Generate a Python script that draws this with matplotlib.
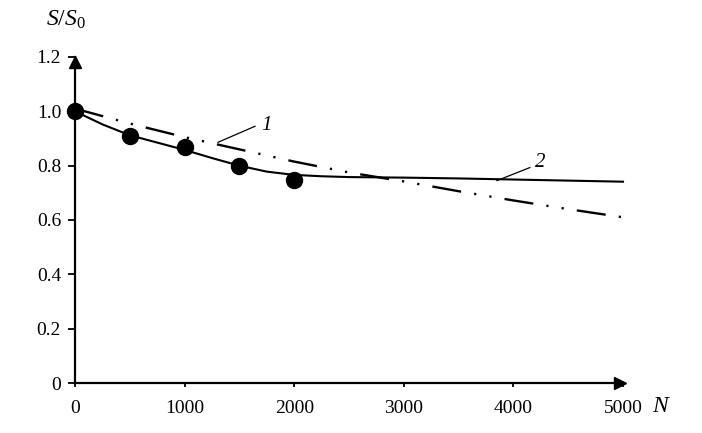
import matplotlib
matplotlib.use("Agg")
import matplotlib.pyplot as plt

plt.rcParams['font.family'] = ['Liberation Serif', 'DejaVu Serif']
plt.rcParams['mathtext.fontset'] = 'custom'
plt.rcParams['mathtext.rm'] = 'Liberation Serif'
plt.rcParams['mathtext.it'] = 'Liberation Serif:italic'
plt.rcParams['lines.scale_dashes'] = False

# experimental points
exp_n = [0, 500, 1000, 1500, 2000]
exp_s = [1.0, 0.908, 0.867, 0.797, 0.749]

# curve 1 (dash-dot-dot)
c1_n = [0, 500, 1000, 1500, 2000, 2500, 3000, 3500, 4000, 4500, 5000]
c1_s = [1.01, 0.955, 0.905, 0.86, 0.815, 0.775, 0.742, 0.706, 0.672, 0.64, 0.61]

# curve 2 (solid)
c2_n = [0, 250, 500, 750, 1000, 1250, 1500, 1750, 2000, 2250, 2500, 3000, 3500, 4000, 4500, 5000]
c2_s = [1.0, 0.952, 0.912, 0.885, 0.858, 0.828, 0.800, 0.778, 0.766, 0.761, 0.758, 0.756, 0.753, 0.749, 0.745, 0.741]

x_ticks = [0, 1000, 2000, 3000, 4000, 5000]
y_ticks = [0, 0.2, 0.4, 0.6, 0.8, 1.0, 1.2]
y_labels = ['0', '0.2', '0.4', '0.6', '0.8', '1.0', '1.2']

W, H = 702, 433
fig = plt.figure(figsize=(W/100, H/100), dpi=100)
ax = fig.add_axes([75/W, (H-383)/H, (623-75)/W, (383-57)/H])
ax.set_xlim(0, 5000)
ax.set_ylim(0, 1.2)

ax.plot(c1_n, c1_s, color='black', lw=1.7,
        dashes=(21, 9.5, 1.6, 9.5, 1.6, 9.5), dash_capstyle='butt', clip_on=False)
ax.plot(c2_n, c2_s, color='black', lw=1.5, clip_on=False)
ax.plot(exp_n, exp_s, 'o', color='black', ms=11.5, clip_on=False, zorder=5)

# leader lines and labels
ax.plot([1305, 1642], [0.886, 0.945], color='black', lw=0.9)
ax.text(1700, 0.948, '1', fontsize=15, style='italic', ha='left', va='center')
ax.plot([3850, 4150], [0.745, 0.793], color='black', lw=0.9)
ax.text(4200, 0.81, '2', fontsize=15, style='italic', ha='left', va='center')

for s in ['top', 'right']:
    ax.spines[s].set_visible(False)
for s in ['left', 'bottom']:
    ax.spines[s].set_linewidth(1.6)

ax.set_xticks(x_ticks)
ax.set_xticklabels([str(v) for v in x_ticks])
ax.set_yticks(y_ticks)
ax.set_yticklabels(y_labels)
ax.tick_params(axis='y', direction='out', length=5, width=1.3, pad=5, labelsize=14)
ax.tick_params(axis='x', direction='out', length=3, width=1.3, pad=9, labelsize=14)

# arrow heads
ax.plot([0], [1.182], marker='^', color='black', ms=8, clip_on=False, zorder=6)
ax.plot([4975], [0], marker='>', color='black', ms=8, clip_on=False, zorder=6)

fig.text(46/W, (H-20)/H, r'$S/S_{\mathrm{0}}$', fontsize=17, ha='left', va='center')
fig.text(652/W, (H-406)/H, 'N', fontsize=17, style='italic', ha='left', va='center')

fig.savefig('out.png', dpi=100)
